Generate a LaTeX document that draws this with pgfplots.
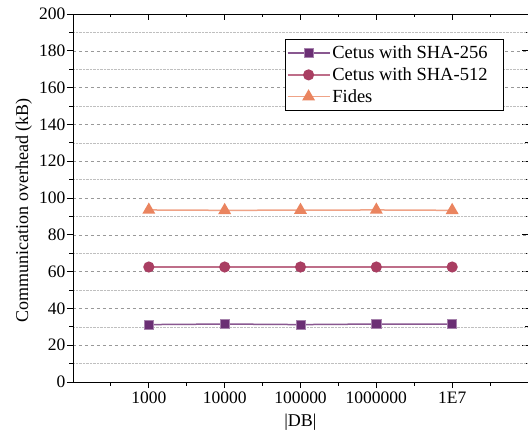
\documentclass[border=0pt]{standalone}
\usepackage{fontspec}
\setmainfont{Liberation Serif}
\usepackage{pgfplots}
\pgfplotsset{compat=1.18}

\definecolor{csha256}{HTML}{6B2F74}
\definecolor{csha512}{HTML}{A93E62}
\definecolor{cfides}{HTML}{EA845F}

\pgfplotsset{
  commonframe/.style={
    at={(0,0)}, anchor=south west,
    scale only axis, width=455pt, height=368pt,
    xmin=0, xmax=6, ymin=0, ymax=200,
    xtick={1,...,5},
    minor xtick={0.5,1.5,...,5.5},
    ytick={0,20,...,200},
    minor ytick={10,30,...,190},
    axis line style={line width=0.9pt},
    major tick length=6pt, minor tick length=3.5pt,
    every tick/.style={black, line width=0.9pt},
  }
}

\begin{document}
\begin{tikzpicture}
\useasboundingbox (-73pt,-55pt) rectangle (455pt,382pt);

% mirrored ticks on top and right, pointing in
\begin{axis}[
  commonframe,
  tick align=inside,
  xtick pos=upper, ytick pos=right,
  xticklabels={}, yticklabels={},
]
\end{axis}

\begin{axis}[
  commonframe,
  tick align=outside,
  xtick pos=lower, ytick pos=left,
  xticklabels={1000,10000,100000,1000000,1E7},
  ymajorgrids, yminorgrids,
  major grid style={dashed, gray!80, line width=0.6pt},
  minor grid style={densely dotted, gray!50, line width=0.6pt},
  /pgf/number format/assume math mode=true,
  tick label style={font=\fontsize{17.5}{17.5}\selectfont},
  yticklabel style={inner xsep=1.5pt},
  xlabel={|DB|}, ylabel={Communication overhead (kB)},
  label style={font=\fontsize{18}{18}\selectfont},
  xlabel style={yshift=-4pt},
  ylabel style={at={(ticklabel cs:0.467)}, yshift=2pt},
  legend style={at={(0.947,0.932)}, anchor=north east,
    font=\fontsize{18.5}{18.5}\selectfont, draw=black, line width=0.7pt,
    inner xsep=1pt, inner ysep=4.5pt, row sep=3.5pt, cells={anchor=west}},
  legend image code/.code={
    \draw[mark repeat=2, mark phase=2, #1]
      plot coordinates {(0pt,0pt) (21pt,0pt) (42pt,0pt)};
  },
]

\addplot[csha256!80!white, line width=1.5pt,
  mark=square*, mark size=4.6pt,
  mark options={fill=csha256, draw=csha256!60!white, line width=0.6pt}]
  coordinates {(1,31.2) (2,31.5) (3,31.2) (4,31.5) (5,31.5)};

\addplot[csha512!75!white, line width=1.5pt,
  mark=*, mark size=4.8pt,
  mark options={fill=csha512, draw=csha512}]
  coordinates {(1,62.5) (2,62.5) (3,62.5) (4,62.5) (5,62.5)};

\addplot[cfides!75!white, line width=1.5pt,
  mark=triangle*, mark size=6pt,
  mark options={fill=cfides, draw=cfides}]
  coordinates {(1,93.5) (2,93.3) (3,93.4) (4,93.5) (5,93.3)};

\legend{Cetus with SHA-256\hspace*{13pt}, Cetus with SHA-512, Fides}
\end{axis}
\end{tikzpicture}
\end{document}
